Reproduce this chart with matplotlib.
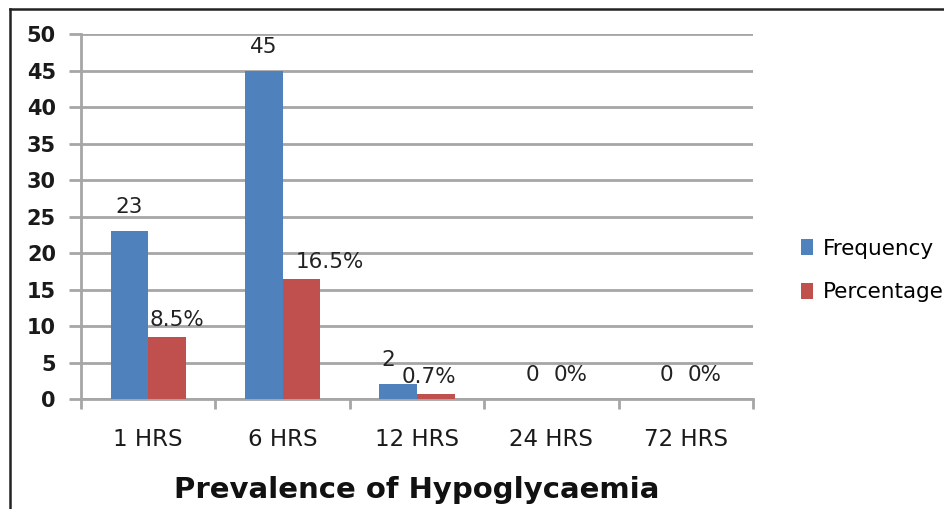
import matplotlib

matplotlib.use("Agg")
import matplotlib.pyplot as plt
import numpy as np
from matplotlib.lines import Line2D

categories = ["1 HRS", "6 HRS", "12 HRS", "24 HRS", "72 HRS"]
frequency = [23, 45, 2, 0, 0]
percentage = [8.5, 16.5, 0.7, 0, 0]
freq_labels = ["23", "45", "2", "0", "0"]
pct_labels = ["8.5%", "16.5%", "0.7%", "0%", "0%"]

BLUE = "#4f81bd"
RED = "#c0504d"
GRID = "#a6a6a6"

# label nudges (pixels) to mimic the hand-placed labels of the original
freq_dx = [0, 0, -10, 0, 0]
pct_dx = [10, 29, -7, 0, 0]

fig = plt.figure(figsize=(9.45, 5.09), dpi=100)
ax = fig.add_axes([0.0857, 0.216, 0.711, 0.717])

x = np.arange(len(categories))
w = 0.28
b1 = ax.bar(x - w / 2, frequency, w, color=BLUE, zorder=3, label="Frequency")
b2 = ax.bar(x + w / 2, percentage, w, color=RED, zorder=3, label="Percentage")

for i, (v, lab) in enumerate(zip(frequency, freq_labels)):
    ax.annotate(lab, (x[i] - w / 2, v), xytext=(freq_dx[i], 24),
                textcoords="offset pixels", ha="center", va="center",
                fontsize=15.5, color="#222222")
for i, (v, lab) in enumerate(zip(percentage, pct_labels)):
    dy = 24 if v == 0 else 17
    ax.annotate(lab, (x[i] + w / 2, v), xytext=(pct_dx[i], dy),
                textcoords="offset pixels", ha="center", va="center",
                fontsize=15.5, color="#222222")

ax.set_xlim(-0.5, len(categories) - 0.5)
ax.set_ylim(0, 50)
ax.set_yticks(range(0, 51, 5))
ax.set_yticklabels([str(t) for t in range(0, 51, 5)], fontsize=15,
                   fontweight="bold", color="#1a1a1a")
ax.set_xticks(x)
ax.set_xticklabels(categories, fontsize=16.5, color="#1a1a1a")
ax.set_xticks(np.arange(-0.5, len(categories)), minor=True)
ax.tick_params(axis="x", which="major", length=0, pad=21)
ax.tick_params(axis="x", which="minor", length=7, width=2, color=GRID)
ax.tick_params(axis="y", length=9, width=2, color=GRID, pad=9)

ax.yaxis.grid(True, color=GRID, linewidth=2, zorder=0)
ax.set_axisbelow(True)
for side in ["top", "right"]:
    ax.spines[side].set_visible(False)
for side in ["left", "bottom"]:
    ax.spines[side].set_color(GRID)
    ax.spines[side].set_linewidth(2)

ax.set_xlabel("Prevalence of Hypoglycaemia", fontsize=21, fontweight="bold",
              labelpad=18, color="#111111")

fig.legend(handles=[b1, b2], loc="upper left", bbox_to_anchor=(0.838, 0.548),
           frameon=False, fontsize=15.5, handlelength=0.6, handleheight=0.75,
           handletextpad=0.45, labelspacing=1.1, borderaxespad=0)

# outer chart frame (only left and top edges are visible in the crop)
fig.add_artist(Line2D([0.0105, 0.0105], [0, 0.982], transform=fig.transFigure,
                      color="#222222", lw=1.8))
fig.add_artist(Line2D([0.0105, 1.0], [0.982, 0.982], transform=fig.transFigure,
                      color="#222222", lw=1.8))

fig.savefig("out.png", dpi=100)
